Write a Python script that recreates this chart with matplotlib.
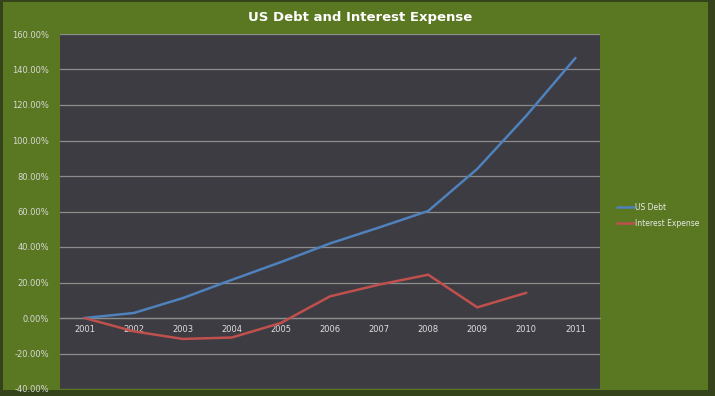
import matplotlib
matplotlib.use("Agg")
import matplotlib.pyplot as plt
from matplotlib.patches import Rectangle
from matplotlib.ticker import FuncFormatter, MultipleLocator

years = ["2001", "2002", "2003", "2004", "2005", "2006", "2007", "2008", "2009", "2010", "2011"]
us_debt = [0.0, 2.8, 11.2, 21.5, 31.5, 42.0, 51.0, 60.3, 84.0, 114.0, 146.5]
interest_expense = [0.0, -7.5, -11.8, -11.0, -2.8, 12.2, 18.8, 24.4, 6.0, 14.2]

fig = plt.figure(figsize=(7.15, 3.96), dpi=100)
fig.patch.set_facecolor("#35431a")
fig.patches.append(Rectangle((3/715, 6/396), 705/715, 388/396, transform=fig.transFigure,
                             facecolor="#5a7822", edgecolor="none", zorder=-5))

ax = fig.add_axes([60/715, 7/396, 540/715, 355/396])
ax.set_zorder(2)
ax.set_facecolor("#3c3c42")
x = list(range(len(years)))
ax.plot(x, us_debt, color="#4f81bd", lw=1.8, solid_capstyle="round", zorder=3, label="US Debt")
ax.plot(x[:len(interest_expense)], interest_expense, color="#c0504d", lw=1.8,
        solid_capstyle="round", zorder=3, label="Interest Expense")

ax.set_xlim(-0.5, len(years) - 0.5)
ax.set_ylim(-40, 160)
ax.yaxis.set_major_locator(MultipleLocator(20))
ax.yaxis.set_major_formatter(FuncFormatter(lambda v, p: f"{v:.2f}%"))
ax.grid(axis="y", color="#8c8c8c", lw=0.9)
ax.set_axisbelow(True)
for s in ["top", "right", "left"]:
    ax.spines[s].set_visible(False)
ax.spines["bottom"].set_position(("data", 0))
ax.spines["bottom"].set_color("#8c8c8c")
ax.spines["bottom"].set_linewidth(0.9)
ax.set_xticks(x)
ax.set_xticklabels(years)
ax.tick_params(axis="x", length=0, pad=5, labelsize=6, colors="#e0e0e0")
ax.tick_params(axis="y", length=0, pad=8, labelsize=6, colors="#d8d8d8")

fig.text(360/715, 1 - 17/396, "US Debt and Interest Expense", ha="center", va="center",
         fontsize=9.5, fontweight="bold", color="white", zorder=5)

leg = fig.legend(loc="upper left", bbox_to_anchor=(610/715, 1 - 196/396), frameon=False,
                 fontsize=5.5, labelcolor="#e8e8e8", handlelength=2.2, handletextpad=0.2,
                 labelspacing=0.9)
leg.set_zorder(5)

fig.savefig("out.png", dpi=100, facecolor=fig.get_facecolor())
